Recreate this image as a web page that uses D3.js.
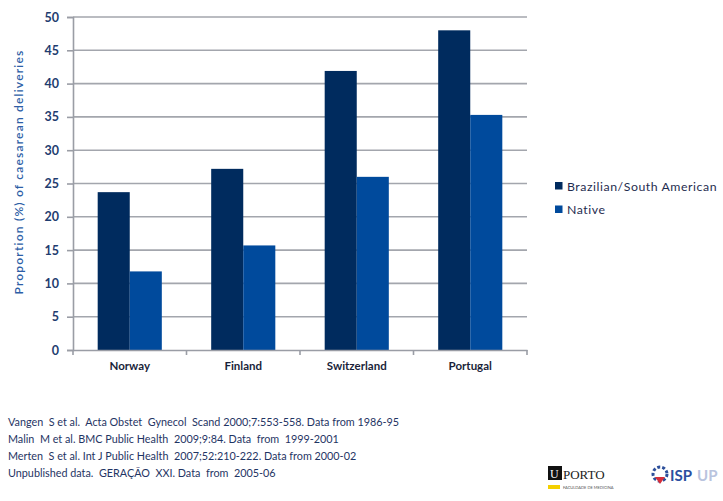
<!DOCTYPE html>
<html><head><meta charset="utf-8">
<script src="https://cdn.jsdelivr.net/npm/d3@7"></script>
<style>
body{margin:0;background:#fff;}
svg{font-family:Lato,"Open Sans",sans-serif;}
</style></head>
<body><svg id="c" width="723" height="501"></svg>
<script>
const categories = ["Norway","Finland","Switzerland","Portugal"];
const seriesNames = ["Brazilian/South American","Native"];
const brazilian = [23.7, 27.2, 41.9, 48.0];
const native = [11.8, 15.7, 26.0, 35.3];
const yTicks = [0,5,10,15,20,25,30,35,40,45,50];
const footnotes = [
 "Vangen  S et al.  Acta Obstet  Gynecol  Scand 2000;7:553-558. Data from 1986-95",
 "Malin  M et al. BMC Public Health  2009;9:84. Data  from  1999-2001",
 "Merten  S et al. Int J Public Health  2007;52:210-222. Data from 2000-02",
 "Unpublished data.  GERAÇÃO  XXI. Data  from  2005-06"
];
const colors = ["#002b5e","#004a9c"];

const svg = d3.select("#c");
const x0 = 73, x1 = 527, yTop = 17, yBot = 350;
const x = d3.scaleBand().domain(categories).range([x0,x1]).paddingInner(0.435).paddingOuter(0.2175);
const xs = d3.scaleBand().domain(seriesNames).range([0,x.bandwidth()]);
const y = d3.scaleLinear().domain([0,50]).range([yBot,yTop]);

// gridlines
svg.append("g").selectAll("line").data(yTicks.filter(d=>d>0)).join("line")
  .attr("x1",x0).attr("x2",x1).attr("y1",d=>y(d)).attr("y2",d=>y(d))
  .attr("stroke","#a3a6ad").attr("stroke-width",1.6);

// y axis
const ya = svg.append("g").attr("transform",`translate(${x0},0)`)
  .call(d3.axisLeft(y).tickValues(yTicks).tickSize(6).tickPadding(8));
ya.select(".domain").attr("stroke","#9a9da5").attr("stroke-width",1.6);
ya.selectAll(".tick line").attr("stroke","#9a9da5").attr("stroke-width",1.6);
ya.selectAll(".tick text").attr("fill","#1f3d70").attr("font-size","12.5px").attr("font-weight","bold").attr("font-family","Lato");

// bars
const series = [brazilian, native];
series.forEach((vals,si)=>{
  svg.append("g").selectAll("rect").data(categories).join("rect")
    .attr("x",(c)=>x(c)+xs(seriesNames[si]))
    .attr("width",xs.bandwidth())
    .attr("y",(c,i)=>y(vals[i]))
    .attr("height",(c,i)=>yBot-y(vals[i]))
    .attr("fill",colors[si]);
});

// x axis
const xa = svg.append("g").attr("transform",`translate(0,${yBot})`)
  .call(d3.axisBottom(x).tickSize(0).tickPadding(12));
xa.select(".domain").attr("stroke","#9a9da5").attr("stroke-width",1.6);
xa.selectAll(".tick text").attr("fill","#1a1f3a").attr("font-size","11.5px").attr("font-weight","bold").attr("font-family","Lato");
// category boundary ticks
const bounds = [x0, ...categories.map(c=>x(c)+x.bandwidth()+x.step()*x.paddingInner()/2).slice(0,3), x1];
svg.append("g").selectAll("line").data(bounds).join("line")
  .attr("x1",d=>d).attr("x2",d=>d).attr("y1",yBot).attr("y2",yBot+5)
  .attr("stroke","#9a9da5").attr("stroke-width",1.6);

// y title
svg.append("text").attr("transform","translate(23,172) rotate(-90)")
  .attr("text-anchor","middle").attr("fill","#2d5ea6").attr("font-size","12px")
  .attr("font-weight","600").attr("letter-spacing","1.2px")
  .text("Proportion (%) of caesarean deliveries");

// legend
const lg = svg.append("g").selectAll("g").data(seriesNames).join("g")
  .attr("transform",(d,i)=>`translate(555,${182+i*23.5})`);
lg.append("rect").attr("width",7.5).attr("height",7.5).attr("fill",(d,i)=>colors[i]);
lg.append("text").attr("x",12).attr("y",8.5).attr("fill","#1f2d50").attr("font-size","12.3px")
  .attr("letter-spacing","0.55px").text(d=>d);

// footnotes
svg.append("g").selectAll("text").data(footnotes).join("text")
  .attr("x",8).attr("y",(d,i)=>426+i*17).attr("fill","#1f3564").attr("font-size","10.8px")
  .attr("xml:space","preserve").style("white-space","pre").text(d=>d);

// logos
const lp = svg.append("g").attr("transform","translate(548,466)");
lp.append("rect").attr("x",0).attr("y",0).attr("width",14).attr("height",14).attr("fill","#111");
lp.append("text").attr("x",2).attr("y",12).attr("fill","#fff").attr("font-size","12px").attr("font-family","Liberation Serif").text("U");
lp.append("text").attr("x",15).attr("y",13).attr("fill","#222").attr("font-size","13px").attr("font-family","Liberation Serif").text("PORTO");
lp.append("rect").attr("x",0).attr("y",19).attr("width",12).attr("height",4).attr("fill","#f4d000");
lp.append("text").attr("x",15).attr("y",23).attr("fill","#555").attr("font-size","4px").text("FACULDADE DE MEDICINA");
const li = svg.append("g").attr("transform","translate(650,466)");
li.append("circle").attr("cx",10).attr("cy",8).attr("r",7).attr("fill","none").attr("stroke","#2c4f9a").attr("stroke-width",3).attr("stroke-dasharray","3 2");
li.append("path").attr("d","M5,11 L10,18 L15,11 Z").attr("fill","#d62e3a");
li.append("text").attr("x",20).attr("y",15).attr("fill","#2a4fa0").attr("font-size","15px").attr("font-weight","bold").text("ISP");
li.append("text").attr("x",47).attr("y",15).attr("fill","#b9c4de").attr("font-size","15px").attr("font-weight","bold").text("UP");
</script></body></html>
